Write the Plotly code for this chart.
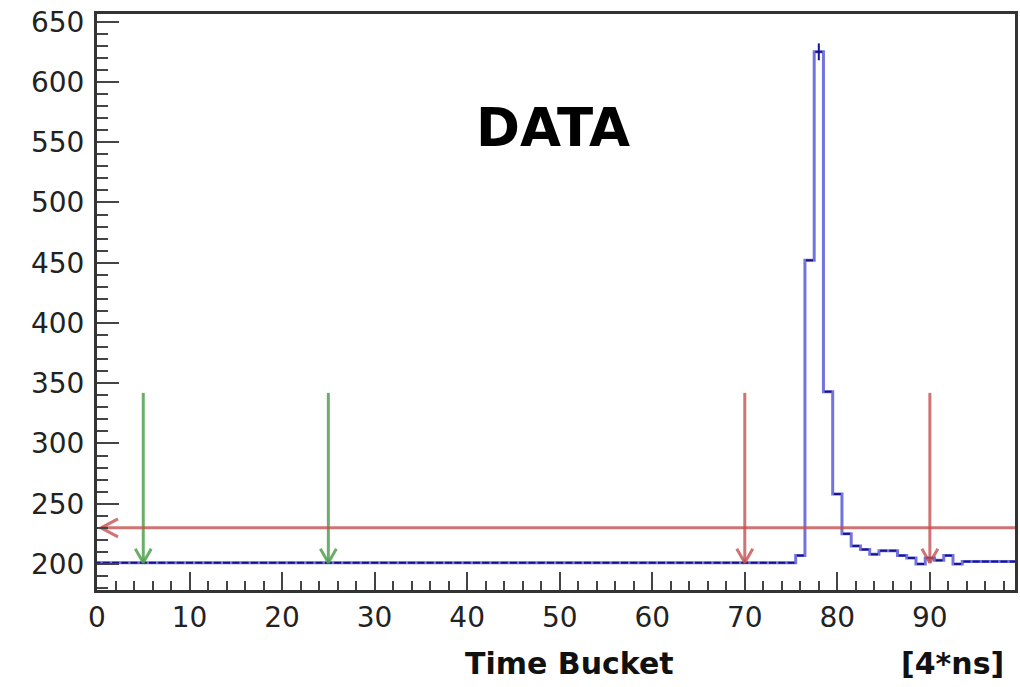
import plotly.graph_objects as go

# ---- data (bin centres 0..99, ADC counts) ----
bin_centers = list(range(100))
counts = [
    201, 201, 201, 201, 201, 201, 201, 201, 201, 201,
    201, 201, 201, 201, 201, 201, 201, 201, 201, 201,
    201, 201, 201, 201, 201, 201, 201, 201, 201, 201,
    201, 201, 201, 201, 201, 201, 201, 201, 201, 201,
    201, 201, 201, 201, 201, 201, 201, 201, 201, 201,
    201, 201, 201, 201, 201, 201, 201, 201, 201, 201,
    201, 201, 201, 201, 201, 201, 201, 201, 201, 201,
    201, 201, 201, 201, 201, 201, 207, 452, 625, 343,
    258, 225, 215, 212, 208, 211, 211, 207, 205, 200,
    205, 203, 207, 200, 202, 202, 202, 202, 202, 202,
]
peak_err = [0] * 78 + [7] + [0] * 21

green_arrow_x = [5, 25]
red_arrow_x = [70, 90]
arrow_top = 342
arrow_tip = 201
threshold_y = 230

x_ticks = [0, 10, 20, 30, 40, 50, 60, 70, 80, 90]
y_ticks = [200, 250, 300, 350, 400, 450, 500, 550, 600, 650]

X_RANGE = [0, 99.2]
Y_RANGE = [178.4, 656.4]

GREEN = "rgba(80,160,80,0.85)"
RED = "rgba(195,80,80,0.8)"
BLUE = "rgba(90,90,215,0.85)"
NAVY = "#14148c"

fig = go.Figure()

# histogram step line (edges at centre-0.5)
edges = [c - 0.5 for c in bin_centers] + [bin_centers[-1] + 0.5]
step_y = counts + [counts[-1]]
fig.add_trace(go.Scatter(x=edges, y=step_y, mode="lines", line_shape="hv",
                         line=dict(color=BLUE, width=3), hoverinfo="skip"))
fig.add_trace(go.Scatter(x=bin_centers, y=counts, mode="markers",
                         marker=dict(symbol="line-ew", size=5, color=NAVY,
                                     line=dict(color=NAVY, width=2)),
                         error_y=dict(type="data", array=peak_err, visible=True,
                                      color=NAVY, thickness=2, width=0),
                         hoverinfo="skip"))

# arrow helpers (head sizes in data units derived from pixel scale)
px_x = (X_RANGE[1] - X_RANGE[0]) / 918.0
px_y = (Y_RANGE[1] - Y_RANGE[0]) / 576.0


def vert_arrow(x, color):
    fig.add_trace(go.Scatter(x=[x, x], y=[arrow_top, arrow_tip], mode="lines",
                             line=dict(color=color, width=3), hoverinfo="skip"))
    fig.add_trace(go.Scatter(x=[x - 8 * px_x, x, x + 8 * px_x],
                             y=[arrow_tip + 14 * px_y, arrow_tip, arrow_tip + 14 * px_y],
                             mode="lines", line=dict(color=color, width=3),
                             hoverinfo="skip"))


for xa in green_arrow_x:
    vert_arrow(xa, GREEN)
for xa in red_arrow_x:
    vert_arrow(xa, RED)

# horizontal threshold arrow pointing left
tip_x = X_RANGE[0] + 4 * px_x
fig.add_trace(go.Scatter(x=[X_RANGE[1], tip_x], y=[threshold_y, threshold_y], mode="lines",
                         line=dict(color=RED, width=3), hoverinfo="skip"))
fig.add_trace(go.Scatter(x=[tip_x + 17 * px_x, tip_x, tip_x + 17 * px_x],
                         y=[threshold_y + 9 * px_y, threshold_y, threshold_y - 9 * px_y],
                         mode="lines", line=dict(color=RED, width=3), hoverinfo="skip"))

tickfont = dict(family="DejaVu Sans", size=28, color="#222")

fig.update_layout(
    width=1020, height=687,
    margin=dict(l=97, r=5, t=14, b=97),
    paper_bgcolor="white", plot_bgcolor="white",
    showlegend=False,
    xaxis=dict(range=X_RANGE, tickvals=x_ticks, ticks="inside", ticklen=18,
               tickwidth=2, tickcolor="#444", showgrid=False, zeroline=False,
               showline=True, linewidth=3, linecolor="#333", mirror=True,
               tickfont=tickfont, automargin=False,
               minor=dict(ticks="inside", ticklen=9, tickwidth=2, tickcolor="#444", dtick=2)),
    yaxis=dict(range=Y_RANGE, tickvals=y_ticks, ticks="inside", ticklen=22,
               tickwidth=2, tickcolor="#444", showgrid=False, zeroline=False,
               showline=True, linewidth=3, linecolor="#333", mirror=True,
               tickfont=tickfont, ticklabelstandoff=4, automargin=False,
               minor=dict(ticks="inside", ticklen=11, tickwidth=2, tickcolor="#444", dtick=10)),
    annotations=[
        dict(text="<b>DATA</b>", xref="paper", yref="paper", x=(553 - 97) / 918,
             y=1 - (128 - 14) / 576,
             showarrow=False, xanchor="center", yanchor="middle",
             font=dict(family="DejaVu Sans", size=53, color="black")),
        dict(text="<b>Time Bucket</b>", xref="paper", yref="paper", x=(569 - 97) / 918, y=0,
             yshift=-73, showarrow=False, xanchor="center", yanchor="middle",
             font=dict(family="DejaVu Sans", size=30, color="#111")),
        dict(text="<b>[4*ns]</b>", xref="paper", yref="paper", x=(1006 - 97) / 918, y=0,
             yshift=-73, showarrow=False, xanchor="right", yanchor="middle",
             font=dict(family="DejaVu Sans", size=30, color="#111")),
    ],
)

fig.write_html("out.html", config={"displayModeBar": False},
               post_script="document.body.style.margin='0';document.body.style.overflow='hidden';")
